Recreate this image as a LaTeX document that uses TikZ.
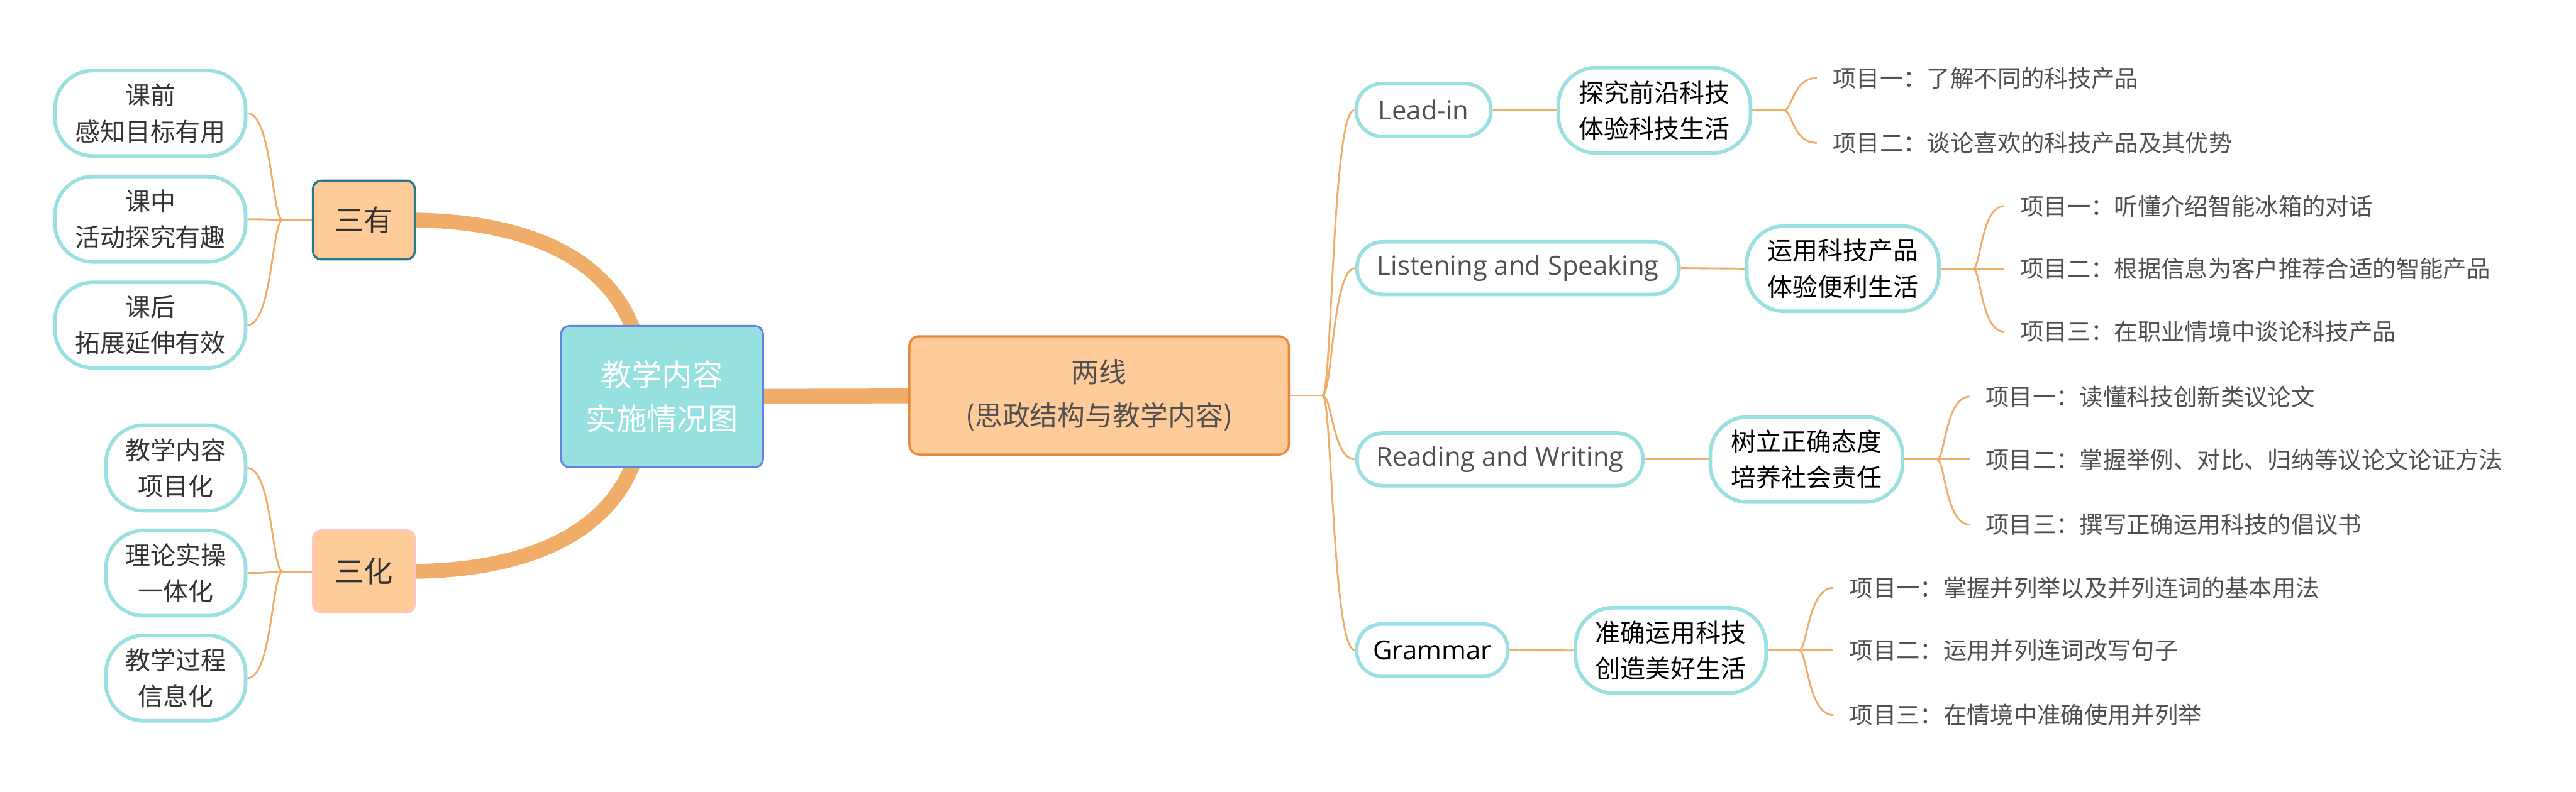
\documentclass[tikz,border=0pt]{standalone}
\usepackage{fontspec}
\setmainfont{Noto Sans CJK SC}
\newfontfamily\latinfont{Open Sans}
\usetikzlibrary{calc,backgrounds}
\definecolor{tealb}{RGB}{155,224,224}
\definecolor{peach}{RGB}{255,204,153}
\definecolor{connc}{RGB}{240,173,106}
\definecolor{ctrfill}{RGB}{150,224,224}
\definecolor{ctrborder}{RGB}{100,130,225}
\definecolor{darkteal}{RGB}{40,120,135}
\definecolor{pinkb}{RGB}{255,198,198}
\definecolor{orangeb}{RGB}{232,136,58}
\definecolor{txt}{RGB}{51,51,51}
\definecolor{leaftxt}{RGB}{80,80,80}
\newcommand\bcurve[3]{\draw[thinconn] (#1) .. controls ($(#1)!#3!(#1 -| #2)$) and ($(#2 -| #1)!#3!(#2)$) .. (#2);}
\begin{document}
\begin{tikzpicture}[x=1pt,y=-1pt,
  sub/.style={draw=tealb,line width=2.2pt,fill=white,rounded corners=23pt,inner sep=0pt,minimum height=52pt,align=center,font=\fontsize{15.3}{22}\selectfont,text=black},
  leftsub/.style={sub,text=txt},
  lvone/.style={draw=tealb,line width=2.2pt,fill=white,rounded corners=15.5pt,inner sep=0pt,minimum height=32pt,font=\latinfont\fontsize{16}{18}\selectfont,text=leaftxt},
  leaf/.style={anchor=west,inner xsep=9.5pt,inner ysep=0pt,font=\fontsize{14.3}{16}\selectfont,text=leaftxt},
  midbox/.style={fill=peach,rounded corners=5pt,inner sep=0pt,minimum width=62pt,minimum height=48pt,font=\fontsize{17.7}{20}\selectfont,text=txt,line width=1.3pt},
  thinconn/.style={draw=connc,line width=1.1pt},
  thickconn/.style={draw=connc,line width=9pt}]
\useasboundingbox (0,0) rectangle (1568,482);

% centre and main branches
\node[fill=ctrfill,draw=ctrborder,line width=1.2pt,rounded corners=5pt,minimum width=123pt,minimum height=86pt,inner sep=0pt,align=center,text=white,font=\fontsize{18.5}{26.5}\selectfont] (ctr) at (403,241.5) {教学内容\\实施情况图};
\node[fill=peach,draw=orangeb,line width=1.3pt,rounded corners=6pt,minimum width=231pt,minimum height=72pt,inner sep=0pt,align=center,text=leaftxt,font=\fontsize{16.8}{26.5}\selectfont] (lx) at (669,240.8) {两线\\(思政结构与教学内容)};
\node[midbox,draw=darkteal] (sy) at (221.5,134) {三有};
\node[midbox,draw=pinkb,minimum height=50pt] (sh) at (221.5,348) {三化};

% left children
\node[leftsub,minimum width=116pt] (kq) at (91.5,69) {课前\\感知目标有用};
\node[leftsub,minimum width=116pt] (kz) at (91.5,133.5) {课中\\活动探究有趣};
\node[leftsub,minimum width=116pt] (kh) at (91.5,198) {课后\\拓展延伸有效};
\node[leftsub,minimum width=85pt] (xm) at (107,285) {教学内容\\项目化};
\node[leftsub,minimum width=85pt] (yt) at (107,349) {理论实操\\一体化};
\node[leftsub,minimum width=85pt] (xx) at (107,413) {教学过程\\信息化};

% level one
\node[lvone,minimum width=82pt] (li) at (866.5,67) {Lead-in};
\node[lvone,minimum width=196pt] (ls) at (924,163.3) {Listening and Speaking};
\node[lvone,minimum width=174pt] (rw) at (913,279.8) {Reading and Writing};
\node[lvone,minimum width=92pt,text=black] (gr) at (871.8,396) {Grammar};

% level two
\node[sub,minimum width=117pt] (tj) at (1007,67.2) {探究前沿科技\\体验科技生活};
\node[sub,minimum width=117pt] (yy) at (1121.7,163.6) {运用科技产品\\体验便利生活};
\node[sub,minimum width=117pt] (sl) at (1099.5,279.8) {树立正确态度\\培养社会责任};
\node[sub,minimum width=116pt] (zq) at (1017,396.1) {准确运用科技\\创造美好生活};

% leaves
\coordinate (j1) at (1086,67.2);
\node[leaf] (a1) at (1106,47.5) {项目一：了解不同的科技产品};
\node[leaf] (a2) at (1106,87) {项目二：谈论喜欢的科技产品及其优势};
\coordinate (j2) at (1201,163.6);
\node[leaf] (b1) at (1220,125.5) {项目一：听懂介绍智能冰箱的对话};
\node[leaf] (b2) at (1220,163.6) {项目二：根据信息为客户推荐合适的智能产品};
\node[leaf] (b3) at (1220,202) {项目三：在职业情境中谈论科技产品};
\coordinate (j3) at (1179,279.8);
\node[leaf] (c1) at (1199,241.5) {项目一：读懂科技创新类议论文};
\node[leaf] (c2) at (1199,279.8) {项目二：掌握举例、对比、归纳等议论文论证方法};
\node[leaf] (c3) at (1199,319.5) {项目三：撰写正确运用科技的倡议书};
\coordinate (j4) at (1095,396.1);
\node[leaf] (d1) at (1116,358) {项目一：掌握并列举以及并列连词的基本用法};
\node[leaf] (d2) at (1116,396.1) {项目二：运用并列连词改写句子};
\node[leaf] (d3) at (1116,435.5) {项目三：在情境中准确使用并列举};

\coordinate (j0) at (805,240.8);
\coordinate (jl1) at (172,134);
\coordinate (jl2) at (172,348);

\begin{pgfonlayer}{background}
\fill[white] (0,0) rectangle (1568,482);
% thick main connectors
\draw[thickconn] (248,134) .. controls (322,134) and (372,158) .. (387,205);
\draw[thickconn] (248,348) .. controls (322,348) and (372,324) .. (387,278);
\draw[thickconn] (ctr.center) -- (lx.center);
% left brackets
\draw[thinconn] (sy.west) -- (jl1);
\bcurve{jl1}{kq.east}{0.3}
\bcurve{jl1}{kz.east}{0.3}
\bcurve{jl1}{kh.east}{0.3}
\draw[thinconn] (sh.west) -- (jl2);
\bcurve{jl2}{xm.east}{0.3}
\bcurve{jl2}{yt.east}{0.3}
\bcurve{jl2}{xx.east}{0.3}
% right level one
\draw[thinconn] (lx.east) -- (j0);
\bcurve{j0}{li.west}{0.3}
\bcurve{j0}{ls.west}{0.3}
\bcurve{j0}{rw.west}{0.3}
\bcurve{j0}{gr.west}{0.3}
% level one to two
\draw[thinconn] (li.east) -- (tj.west);
\draw[thinconn] (ls.east) -- (yy.west);
\draw[thinconn] (rw.east) -- (sl.west);
\draw[thinconn] (gr.east) -- (zq.west);
% leaves
\draw[thinconn] (tj.east) -- (j1);
\bcurve{j1}{a1.west}{0.25}
\bcurve{j1}{a2.west}{0.25}
\draw[thinconn] (yy.east) -- (j2);
\bcurve{j2}{b1.west}{0.25}
\draw[thinconn] (j2) -- (b2.west);
\bcurve{j2}{b3.west}{0.25}
\draw[thinconn] (sl.east) -- (j3);
\bcurve{j3}{c1.west}{0.25}
\draw[thinconn] (j3) -- (c2.west);
\bcurve{j3}{c3.west}{0.25}
\draw[thinconn] (zq.east) -- (j4);
\bcurve{j4}{d1.west}{0.25}
\draw[thinconn] (j4) -- (d2.west);
\bcurve{j4}{d3.west}{0.25}
\end{pgfonlayer}
\end{tikzpicture}
\end{document}
